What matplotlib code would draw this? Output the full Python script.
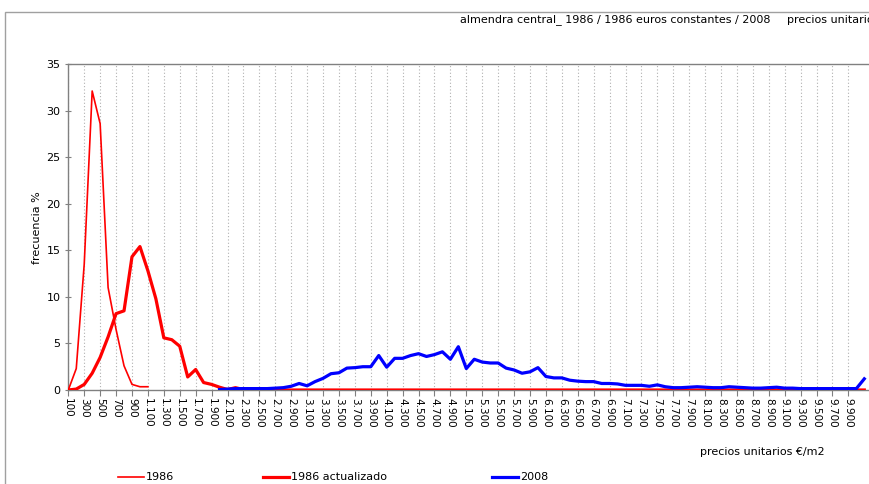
import matplotlib
matplotlib.use("Agg")
import matplotlib.pyplot as plt
from matplotlib.lines import Line2D
from matplotlib.patches import Rectangle
import numpy as np

# price classes (EUR/m2), one every 100
precios = list(range(100, 10200, 100))

serie_1986 = [0, 2.3, 13.5, 32.1, 28.6, 11.0, 6.5, 2.6, 0.6, 0.35, 0.35]

serie_1986_act = [0, 0.1, 0.6, 1.8, 3.5, 5.7, 8.2, 8.5, 14.3, 15.4, 12.8, 9.8,
                  5.6, 5.4, 4.7, 1.4, 2.2, 0.8, 0.6, 0.3, 0.05, 0.25, 0.05]

serie_2008 = [0.05, 0.1, 0.15, 0.15, 0.15, 0.15, 0.15, 0.2, 0.25, 0.4,
              0.7, 0.45, 0.9, 1.25, 1.75, 1.85, 2.35, 2.4, 2.5, 2.5,
              3.7, 2.45, 3.4, 3.4, 3.7, 3.9, 3.6, 3.8, 4.1, 3.3,
              4.65, 2.3, 3.3, 3.0, 2.9, 2.9, 2.35, 2.15, 1.8, 1.95,
              2.4, 1.45, 1.3, 1.3, 1.05, 0.95, 0.9, 0.9, 0.7, 0.7,
              0.65, 0.5, 0.5, 0.5, 0.4, 0.55, 0.35, 0.25, 0.25, 0.3,
              0.35, 0.3, 0.25, 0.25, 0.35, 0.3, 0.25, 0.2, 0.2, 0.25,
              0.3, 0.2, 0.2, 0.15, 0.15, 0.15, 0.15, 0.15, 0.15, 0.15,
              0.15, 1.2]
inicio_2008 = 2000

y_ticks = [0, 5, 10, 15, 20, 25, 30, 35]
ultima_etiqueta = 9900


def etiqueta(v):
    return f"{v:,}".replace(",", ".")


def main():
    plt.rcParams["font.family"] = ["DejaVu Sans"]
    fig = plt.figure(figsize=(8.69, 4.84), dpi=100)

    # outer chart frame (cut off on the right and bottom)
    top_frame = 1 - 12 / 484
    fig.add_artist(Rectangle((5 / 869, -0.2), 1.2, top_frame + 0.2,
                             transform=fig.transFigure, fill=False,
                             edgecolor="#a0a0a0", lw=1.0))

    left = 68.3 / 869
    bottom = 1 - 390 / 484
    top = 1 - 64 / 484
    step = 7.96 / 869
    n_vis = 101.6
    ax = fig.add_axes([left, bottom, step * n_vis, top - bottom])

    n = len(precios)
    idx = np.arange(n)

    y86 = np.full(n, np.nan)
    y86[:len(serie_1986)] = serie_1986
    yact = np.zeros(n)
    yact[:len(serie_1986_act)] = serie_1986_act
    y08 = np.full(n, np.nan)
    i0 = precios.index(inicio_2008)
    y08[i0:i0 + len(serie_2008)] = serie_2008

    ax.plot(idx, yact, color="#ff0000", lw=2.3, solid_joinstyle="round", zorder=3)
    ax.plot(idx, y86, color="#ff0000", lw=1.2, solid_joinstyle="round", zorder=4)
    ax.plot(idx, y08, color="#0000ff", lw=2.3, solid_joinstyle="round", zorder=5)

    ax.set_xlim(0, n_vis)
    ax.set_ylim(0, 35)
    ax.set_yticks(y_ticks)
    ax.tick_params(axis="y", direction="inout", length=5, width=0.8,
                   color="#808080", labelsize=8, pad=3)

    xt = idx[:precios.index(ultima_etiqueta) + 1:2]
    ax.set_xticks(xt)
    ax.set_xticklabels([etiqueta(precios[i]) for i in xt], rotation=-90,
                       fontsize=7.5, va="top", ha="center")
    ax.tick_params(axis="x", direction="out", length=4, width=0.8,
                   color="#808080", pad=2)

    ax.grid(axis="x", color="#b0b0b0", ls=(0, (1, 2)), lw=0.8)
    ax.set_axisbelow(True)

    for s in ["left", "top", "bottom"]:
        ax.spines[s].set_color("#808080")
        ax.spines[s].set_linewidth(1.0)
    ax.spines["right"].set_visible(False)

    fig.text(37 / 869, 1 - 228 / 484, "frecuencia %", rotation=90,
             ha="center", va="center", fontsize=8)

    fig.text(460 / 869, 1 - 20 / 484,
             "almendra central_ 1986 / 1986 euros constantes / 2008",
             ha="left", va="center", fontsize=8)
    fig.text(787 / 869, 1 - 20 / 484, "precios unitarios €/m2",
             ha="left", va="center", fontsize=8)

    fig.text(700 / 869, 1 - 452 / 484, "precios unitarios €/m2",
             ha="left", va="center", fontsize=8)

    # legend row at the bottom
    entradas = [("1986", "#ff0000", 1.2, 118),
                ("1986 actualizado", "#ff0000", 2.3, 263),
                ("2008", "#0000ff", 2.3, 492)]
    yl = 1 - 477 / 484
    for texto, color, lw, x0 in entradas:
        fig.add_artist(Line2D([x0 / 869, (x0 + 26) / 869], [yl, yl],
                              transform=fig.transFigure, color=color, lw=lw))
        fig.text((x0 + 28) / 869, yl, texto, ha="left", va="center", fontsize=8)

    fig.savefig("out.png", dpi=100)
    plt.close(fig)


if __name__ == "__main__":
    main()
